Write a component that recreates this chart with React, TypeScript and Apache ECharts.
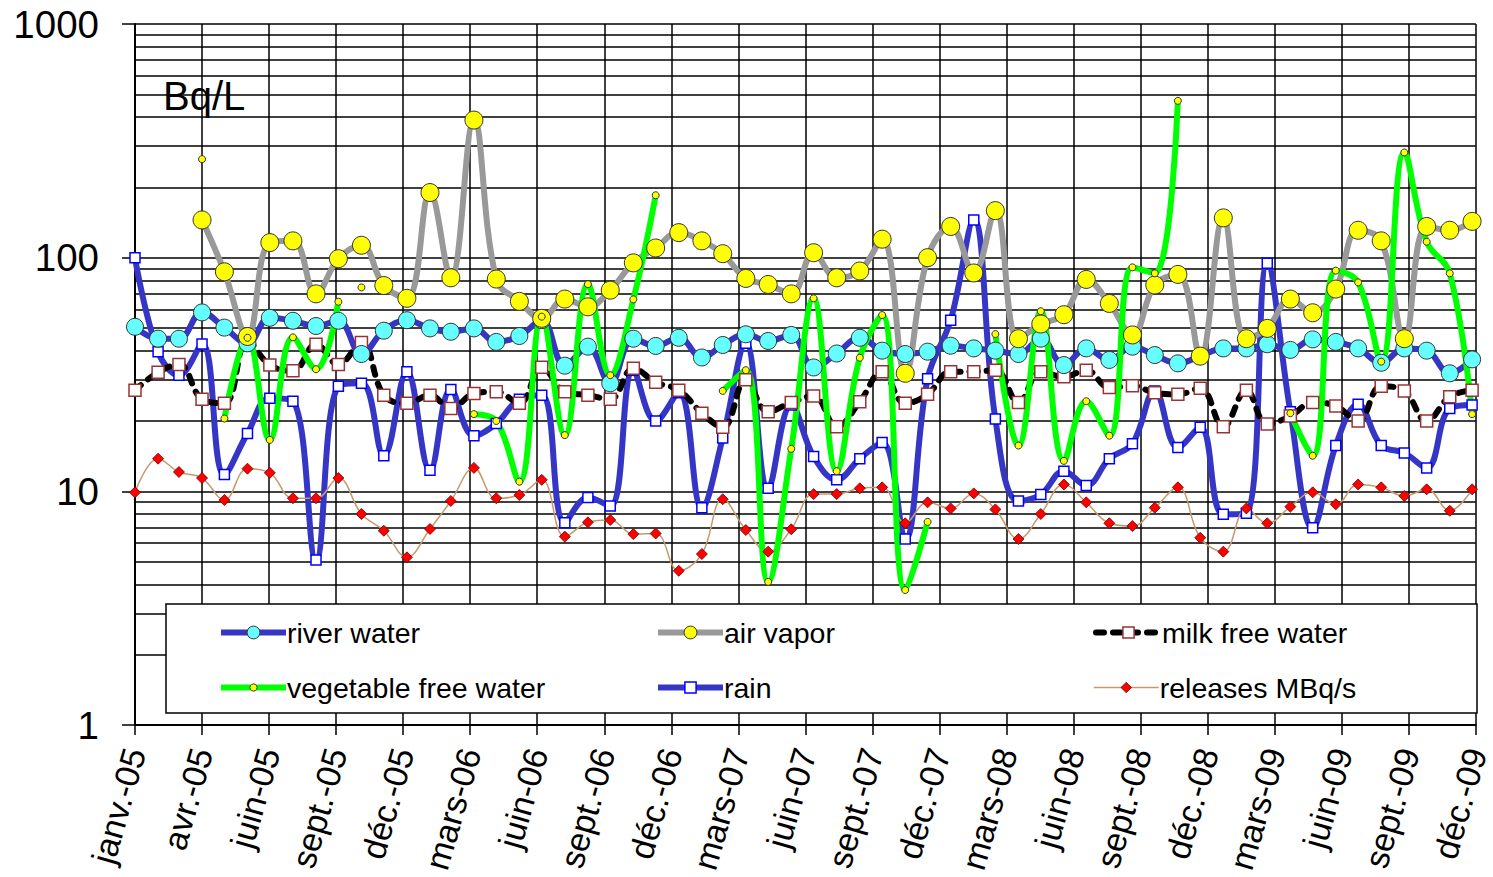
import React, { useEffect, useRef } from "react";
import * as echarts from "echarts";

// Monthly sampling dates (first of each month)
const months: string[] = [
  "2005-01","2005-02","2005-03","2005-04","2005-05","2005-06","2005-07","2005-08","2005-09","2005-10","2005-11","2005-12",
  "2006-01","2006-02","2006-03","2006-04","2006-05","2006-06","2006-07","2006-08","2006-09","2006-10","2006-11","2006-12",
  "2007-01","2007-02","2007-03","2007-04","2007-05","2007-06","2007-07","2007-08","2007-09","2007-10","2007-11","2007-12",
  "2008-01","2008-02","2008-03","2008-04","2008-05","2008-06","2008-07","2008-08","2008-09","2008-10","2008-11","2008-12",
  "2009-01","2009-02","2009-03","2009-04","2009-05","2009-06","2009-07","2009-08","2009-09","2009-10","2009-11","2009-12",
];

// Axis tick labels (every 90 days from 1 Jan 2005)
const tickLabels: string[] = [
  "janv.-05","avr.-05","juin-05","sept.-05","déc.-05","mars-06","juin-06","sept.-06","déc.-06",
  "mars-07","juin-07","sept.-07","déc.-07","mars-08","juin-08","sept.-08","déc.-08",
  "mars-09","juin-09","sept.-09","déc.-09",
];

const riverWater: (number | null)[] = [
  50.6,45,45,58.3,50.2,43,55.3,53.7,51,53.7,38.7,48.7,
  54,49.8,48.2,49.8,43.6,46.2,54,34.5,41.6,29,45,41.9,
  45.4,37.4,42.3,47,44,46.7,33.9,38.9,45.4,40,38.7,39.6,
  42,40.9,40,38.7,45,34.7,40.9,36.5,41.6,38.3,35.3,37.9,
  40.9,40.9,42.6,40.3,44.7,43.6,40.9,35.5,40.9,40,32,36.7,
];

const airVapor: (number | null)[] = [
  null,null,null,145,87,46,116,118,70,99,113,76,
  67,190,82,388,81,65,55,66.5,61.6,72.6,95,110,
  128,118,104,81.5,76.8,70,105,82,87.7,120,32,100,
  136,86,159,45,52,57,80.7,63.7,46.7,76.4,84.8,37.9,
  148,45,49.8,66.5,58.1,73.4,131,118,45,136,131,143,
];

const milkFreeWater: (number | null)[] = [
  27.1,32.3,34.9,24.8,23.8,44,34.7,32.8,42.6,34.9,43.3,25.8,
  23.8,25.8,22.6,26.2,26.7,23.8,34,26.7,25.8,24.8,33.6,29.3,
  27.1,21.6,18.8,30,21.9,24,25.6,18.9,24.2,32.5,23.8,26,
  32.5,32.5,33,24,32.5,30.9,33,27.8,28.3,26.4,26,27.6,
  18.9,27.1,19.4,21,24,23.2,20,28.2,26.9,20,25.4,27.1,
];

const vegetableFreeWater: (number | null)[] = [
  null,null,null,null,20.5,45.4,16.6,45.6,33.3,64.8,null,null,
  null,null,null,21.4,20,11,55.9,17.4,77,31.4,66.3,185,
  null,null,26.9,33,4.1,15.2,67,12.2,37.3,56.8,3.78,7.4,
  null,null,47.1,15.7,59,13.5,24.3,17.3,90.9,85.7,469,null,
  null,null,null,21.6,14.2,88,78.4,35.9,282,117,85.7,21.4,
];

// Isolated vegetable samples (not joined to neighbours)
const vegetableIsolated: (number | null)[] = [
  null,null,null,264,null,null,null,null,null,null,74.6,null,
  null,null,null,null,null,null,null,null,null,null,null,null,
  null,null,null,null,null,null,null,null,null,null,null,null,
  null,null,null,null,null,null,null,null,null,null,null,null,
  null,null,null,null,null,null,null,null,null,null,null,null,
];

const rain: (number | null)[] = [
  100,39.6,31.4,42.7,11.8,17.7,25,24.3,5.08,28.2,29,14.2,
  32.5,12.3,27.3,17.3,19.5,24.8,25.8,7.34,9.4,8.65,33,20,
  26.4,8.5,16.9,43,10.3,23.4,14.1,11.2,13.8,16.2,6.25,30.3,
  54,145,20.4,9.09,9.7,12.2,10.6,13.8,16,26.9,15.4,18.8,
  7.97,8.05,94.6,21.9,6.98,15.7,23.6,15.7,14.6,12.6,22.6,23.4,
];

const releases: (number | null)[] = [
  9.9,13.8,12.1,11.4,9.18,12.5,12,9.34,9.34,11.4,8,6.78,
  5.22,6.9,9.09,12.6,9.34,9.64,11.2,6.4,7.37,7.54,6.56,6.6,
  4.57,5.39,9.25,6.83,5.52,6.88,9.73,9.73,10.3,10.4,7.3,8.97,
  8.45,9.8,8.37,6.25,8,10.7,8.97,7.3,7.1,8.51,10.4,6.33,
  5.52,8.45,7.3,8.6,9.9,8.8,10.7,10.4,9.55,10.2,8.26,10.2,
];

const FONT = "'Liberation Sans', Arial, Helvetica, sans-serif";
const DAY = 86400000;
const START = Date.UTC(2005, 0, 1);

const xDays = months.map((m) => {
  const [y, mo] = m.split("-").map(Number);
  return (Date.UTC(y, mo - 1, 1) - START) / DAY;
});

const pts = (vals: (number | null)[]) =>
  vals.map((v, i) => [xDays[i], v == null ? "-" : v]);

export default function App() {
  const ref = useRef<HTMLDivElement>(null);

  useEffect(() => {
    if (!ref.current) return;
    const chart = echarts.init(ref.current, undefined, { renderer: "svg" });

    const lineBase = { type: "line", smooth: 0.4, showSymbol: true, connectNulls: false };

    const series: any[] = [
      {
        ...lineBase,
        name: "rain",
        data: pts(rain),
        symbol: "rect",
        symbolSize: 10,
        itemStyle: { color: "#ffffff", borderColor: "#0000ff", borderWidth: 1.5 },
        lineStyle: { color: "#3636c6", width: 6 },
      },
      {
        ...lineBase,
        name: "milk free water",
        data: pts(milkFreeWater),
        symbol: "rect",
        symbolSize: 12,
        itemStyle: { color: "#ffffff", borderColor: "#993333", borderWidth: 1.5 },
        lineStyle: { color: "#000000", width: 6, type: [8, 9], cap: "round" },
      },
      {
        ...lineBase,
        name: "releases MBq/s",
        data: pts(releases),
        symbol: "diamond",
        symbolSize: 11,
        itemStyle: { color: "#ff0000", borderColor: "#660000", borderWidth: 0.8 },
        lineStyle: { color: "#c49a6c", width: 1.5 },
      },
      {
        ...lineBase,
        name: "river water",
        data: pts(riverWater),
        symbol: "circle",
        symbolSize: 17,
        itemStyle: { color: "#66ffff", borderColor: "#333333", borderWidth: 1 },
        lineStyle: { color: "#3636c6", width: 6 },
      },
      {
        ...lineBase,
        name: "air vapor",
        data: pts(airVapor),
        symbol: "circle",
        symbolSize: 18,
        itemStyle: { color: "#ffff00", borderColor: "#333333", borderWidth: 1 },
        lineStyle: { color: "#999999", width: 6 },
      },
      {
        ...lineBase,
        name: "vegetable free water",
        data: pts(vegetableFreeWater),
        symbol: "circle",
        symbolSize: 7,
        itemStyle: { color: "#ffff00", borderColor: "#333333", borderWidth: 1 },
        lineStyle: { color: "#00ff00", width: 6 },
      },
      {
        ...lineBase,
        name: "vegetable free water",
        data: pts(vegetableIsolated),
        symbol: "circle",
        symbolSize: 7,
        itemStyle: { color: "#ffff00", borderColor: "#333333", borderWidth: 1 },
        lineStyle: { color: "#00ff00", width: 6 },
      },
    ];

    const legendItems = [
      { name: "river water", left: 218, top: 618, h: 16, w: 6, bw: 1 },
      { name: "air vapor", left: 655, top: 618, h: 16, w: 6, bw: 1 },
      { name: "milk free water", left: 1093, top: 618, h: 14, w: 6, bw: 1.5 },
      { name: "vegetable free water", left: 218, top: 673, h: 9, w: 6, bw: 1 },
      { name: "rain", left: 655, top: 673, h: 14, w: 6, bw: 1.5 },
      { name: "releases MBq/s", left: 1093, top: 673, h: 13, w: 1.5, bw: 0.8 },
    ];

    const option: any = {
      animation: false,
      backgroundColor: "#ffffff",
      textStyle: { fontFamily: FONT },
      grid: { left: 135, right: 10, top: 24, bottom: 152, containLabel: false },
      xAxis: {
        type: "value",
        min: 0,
        max: 1800,
        interval: 90,
        axisLine: { show: true, onZero: false, lineStyle: { color: "#000", width: 2 } },
        axisTick: { show: true, length: 10, lineStyle: { color: "#000", width: 1.5 } },
        axisLabel: {
          rotate: 74,
          fontSize: 34,
          margin: 24,
          color: "#000",
          fontFamily: FONT,
          formatter: (v: number) => tickLabels[Math.round(v / 90)] ?? "",
        },
        splitLine: { show: true, lineStyle: { color: "#000", width: 1.5 } },
      },
      yAxis: {
        type: "log",
        logBase: 10,
        min: 1,
        max: 1000,
        axisLine: { show: true, lineStyle: { color: "#000", width: 2 } },
        axisTick: { show: true, length: 13, lineStyle: { color: "#000", width: 1.5 } },
        axisLabel: {
          fontSize: 38.5,
          margin: 36,
          color: "#000",
          fontFamily: FONT,
          formatter: (v: number) => String(Math.round(v)),
        },
        splitLine: { show: true, lineStyle: { color: "#000", width: 1.5 } },
        minorTick: { show: false, splitNumber: 9 },
        minorSplitLine: { show: true, lineStyle: { color: "#000", width: 1.5 } },
      },
      legend: legendItems.map((l) => ({
        data: [l.name],
        left: l.left,
        top: l.top,
        padding: 0,
        itemWidth: 65,
        itemHeight: l.h,
        itemGap: 0,
        selectedMode: false,
        z: 10,
        lineStyle: { width: l.w },
        itemStyle: { borderWidth: l.bw },
        textStyle: { fontSize: 28.5, color: "#000", fontFamily: FONT, padding: [0, 0, 0, -4] },
      })),
      graphic: [
        {
          type: "rect",
          z: 8,
          shape: { x: 166, y: 604, width: 1311, height: 109 },
          style: { fill: "#ffffff", stroke: "#000000", lineWidth: 1.5 },
        },
        {
          type: "text",
          z: 8,
          x: 163,
          y: 96,
          style: {
            text: "Bq/L",
            fontSize: 40,
            fontFamily: FONT,
            fill: "#000",
            textVerticalAlign: "middle",
            verticalAlign: "middle",
          },
        },
      ],
      series,
    };

    chart.setOption(option);
    return () => chart.dispose();
  }, []);

  return (
    <div
      ref={ref}
      style={{ position: "absolute", left: 0, top: 0, width: 1493, height: 877, background: "#fff" }}
    />
  );
}
